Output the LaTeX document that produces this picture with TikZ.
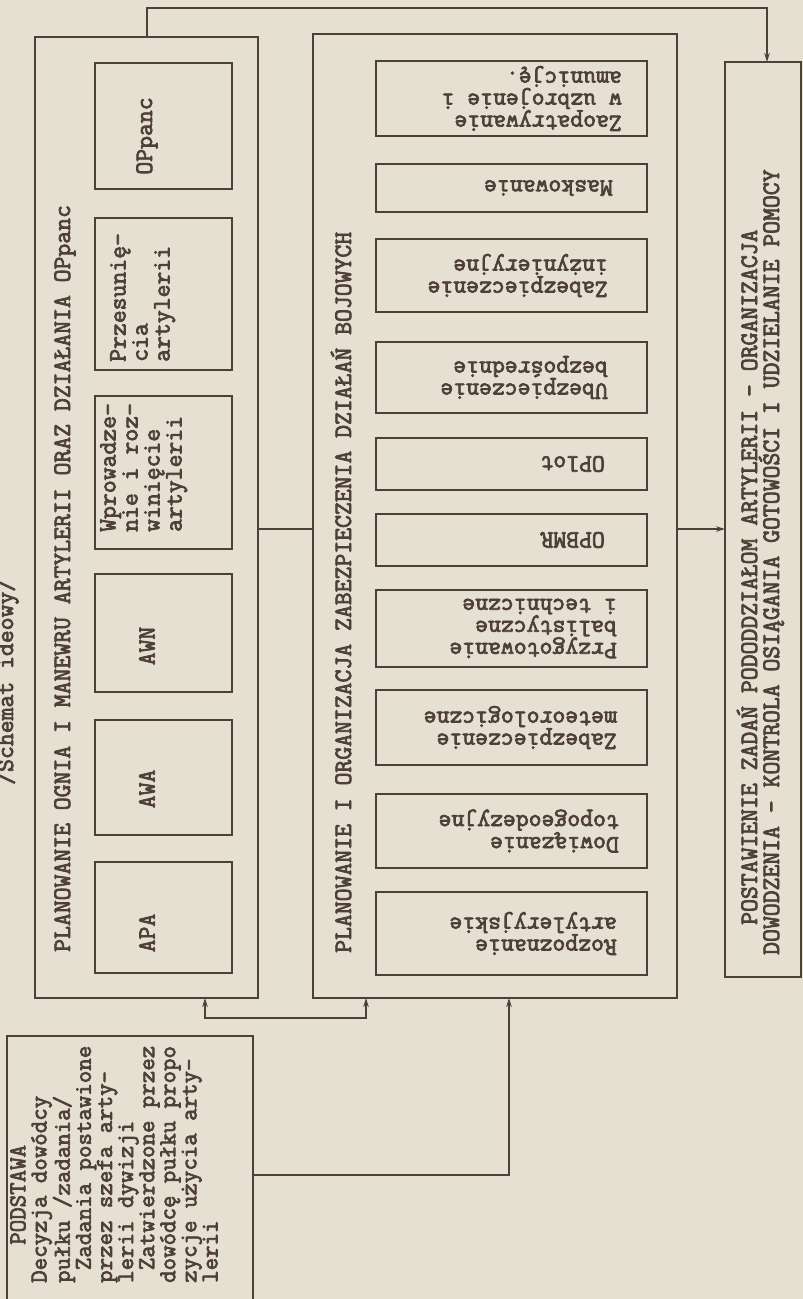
\documentclass[tikz,border=0pt]{standalone}
\usepackage{fontspec}
\newfontfamily\twfont{lmmono12-regular.otf}[FakeBold=3]
\usetikzlibrary{arrows.meta}
\definecolor{paper}{RGB}{230,224,211}
\definecolor{ink}{RGB}{78,64,54}
\newcommand\tw{\twfont\fontsize{25}{22}\selectfont}
\newcommand\twp{\twfont\fontsize{24.2}{21.1}\selectfont}
\newcommand\bx[5]{\node[box,minimum width={#4-#2},minimum height={#5-#3}] (#1) at (#2,#3) {};}
\begin{document}
\begin{tikzpicture}[x=1pt,y=-1pt,
  box/.style={draw=ink,line width=2.6pt,inner sep=0pt,outer sep=0pt,anchor=north west},
  conn/.style={draw=ink,line width=2pt},
  tip/.style={-{Stealth[length=9pt,width=5.5pt]}},
  tips/.style={{Stealth[length=9pt,width=5.5pt]}-{Stealth[length=9pt,width=5.5pt]}},
  lbl/.style={text=ink,font=\tw,inner sep=0pt},
  up/.style={lbl,rotate=90},
  down/.style={lbl,rotate=180,anchor=west,align=left}]
\fill[paper] (0,0) rectangle (803,1299);
\useasboundingbox (0,0) rectangle (803,1299);
% left column
\bx{L}{35}{37}{258}{998}
\bx{L1}{95}{63}{232}{189}
\bx{L2}{95}{218}{232}{370}
\bx{L3}{95}{396}{232}{549}
\bx{L4}{95}{574}{232}{692}
\bx{L5}{95}{720}{232}{835}
\bx{L6}{95}{862}{232}{973}
% middle column
\bx{M}{313}{34}{677}{998}
\bx{M1}{376}{61}{647}{136}
\bx{M2}{376}{164}{647}{212}
\bx{M3}{376}{239}{647}{312}
\bx{M4}{376}{342}{647}{413}
\bx{M5}{376}{438}{647}{490}
\bx{M6}{376}{514}{647}{566}
\bx{M7}{376}{590}{647}{667}
\bx{M8}{376}{690}{647}{765}
\bx{M9}{376}{794}{647}{868}
\bx{M10}{376}{892}{647}{975}
% right and base
\bx{R}{725}{62}{801}{977}
\bx{P}{7}{1036}{253}{1310}
% texts
\node[up,anchor=base west] (tS) at (13,785) {/Schemat ideowy/};
\node[up,anchor=base west] (tL) at (70,952) {PLANOWANIE OGNIA I MANEWRU ARTYLERII ORAZ DZIAŁANIA OPpanc};
\node[up,anchor=base west] (tM) at (351,953) {PLANOWANIE I ORGANIZACJA ZABEZPIECZENIA DZIAŁAŃ BOJOWYCH};
\node[up,anchor=base west] (tR1) at (757,925) {POSTAWIENIE ZADAŃ PODODDZIAŁOM ARTYLERII - ORGANIZACJA};
\node[up,anchor=base west] (tR2) at (779,955) {DOWODZENIA - KONTROLA OSIĄGANIA GOTOWOŚCI I UDZIELANIE POMOCY};
\node[up] (t1) at (147,136) {OPpanc};
\node[up,anchor=north west,align=left] (t2) at (110,362) {Przesunię-\\cia\\artylerii};
\node[up,anchor=north west,align=left] (t3) at (100,532) {Wprowadze-\\nie i roz-\\winięcie\\artylerii};
\node[up] (t4) at (147,646) {AWN};
\node[up] (t5) at (147,789) {AWA};
\node[up] (t6) at (147,933) {APA};
\node[down] (m1) at ([xshift=-25pt]M1.east) {Zaopatrywanie\\w uzbrojenie i\\amunicję.};
\node[down] (m2) at ([xshift=-34pt]M2.east) {Maskowanie};
\node[down] (m3) at ([xshift=-39pt]M3.east) {Zabezpieczenie\\inżynieryjne};
\node[down] (m4) at ([xshift=-39pt]M4.east) {Ubezpieczenie\\bezpośrednie};
\node[down] (m5) at ([xshift=-42pt]M5.east) {OPlot};
\node[down] (m6) at ([xshift=-42pt]M6.east) {OPBMR};
\node[down] (m7) at ([xshift=-30pt]M7.east) {Przygotowanie\\balistyczne\\i techniczne};
\node[down] (m8) at ([xshift=-30pt]M8.east) {Zabezpieczenie\\meteorologiczne};
\node[down] (m9) at ([xshift=-28pt]M9.east) {Dowiązanie\\topogeodezyjne};
\node[down] (m10) at ([xshift=-30pt]M10.east) {Rozpoznanie\\artyleryjskie};
\node[up,anchor=north west,align=left,font=\twp] (tP) at (10,1283) {\hspace*{1.575em}PODSTAWA\\Decyzja dowódcy\\pułku /zadania/\\\hspace*{0.525em}Zadania postawione\\przez szefa arty-\\lerii dywizji\\\hspace*{0.525em}Zatwierdzone przez\\dowódcę pułku propo\\zycje użycia arty-\\lerii};
% connectors
\coordinate (a1) at (147,8);
\coordinate (a2) at (767,8);
\draw[conn,tip] (L.north -| a1) -- (a1) -- (a2) -- (R.north -| a2);
\coordinate (b) at (0,529);
\draw[conn] (L.east |- b) -- (M.west |- b);
\draw[conn,tip] (M.east |- b) -- (R.west |- b);
\coordinate (c1) at (205,1018);
\coordinate (c2) at (366,1018);
\draw[conn,tips] (L.south -| c1) -- (c1) -- (c2) -- (M.south -| c2);
\coordinate (d) at (509,1175);
\draw[conn,tip] (P.east |- d) -- (d) -- (M.south -| d);
\end{tikzpicture}
\end{document}
